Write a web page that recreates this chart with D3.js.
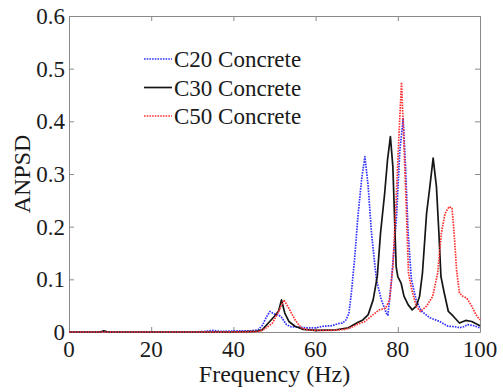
<!DOCTYPE html>
<html>
<head>
<meta charset="utf-8">
<script src="https://cdn.jsdelivr.net/npm/d3@7"></script>
</head>
<body style="margin:0;background:#fff">
<svg id="chart" width="503" height="392" font-family="Liberation Serif"></svg>
<script>
// Frequency (Hz) / ANPSD pairs for each concrete grade
const c20 = [[0,0],[10,0],[20,0],[30,0],[33,0.001],[35,0.003],[37,0.001],[40,0.002],[44,0.002],[46,0.004],[47,0.012],[48,0.028],[48.9,0.039],[50,0.034],[50.9,0.033],[51.7,0.028],[52.9,0.014],[54,0.01],[56,0.009],[58,0.008],[60,0.008],[62,0.011],[64,0.012],[65.5,0.016],[66.5,0.017],[67.3,0.022],[68.1,0.035],[68.7,0.074],[69.5,0.14],[70.3,0.22],[71.2,0.29],[72,0.333],[72.8,0.276],[73.6,0.188],[74.8,0.099],[76,0.061],[77.2,0.036],[77.6,0.032],[78.4,0.093],[79.1,0.16],[79.7,0.22],[80.5,0.345],[81.3,0.405],[81.9,0.31],[82.5,0.19],[83.3,0.1],[84.5,0.06],[85.7,0.04],[87.8,0.027],[90.2,0.02],[92.2,0.011],[94,0.01],[95,0.008],[96,0.01],[97,0.014],[98.5,0.012],[100,0.008]];
const c30 = [[0,0],[7.5,0],[8.5,0.002],[9.5,0],[20,0],[30,0],[40,0],[45,0.001],[46,0.002],[47,0.004],[48.5,0.017],[50,0.03],[51,0.04],[51.7,0.061],[52.5,0.036],[53.5,0.02],[55,0.011],[57,0.005],[60,0.003],[65,0.004],[68,0.008],[70,0.017],[71.5,0.023],[72.8,0.033],[74,0.061],[75,0.105],[75.8,0.188],[76.8,0.263],[77.5,0.327],[78.2,0.371],[78.8,0.314],[79.6,0.124],[80,0.105],[80.8,0.093],[81.5,0.068],[82.5,0.052],[83.5,0.042],[84.5,0.049],[85.3,0.068],[86,0.112],[87,0.225],[87.8,0.276],[88.6,0.33],[89.4,0.276],[90,0.188],[90.5,0.105],[91.3,0.074],[92.3,0.039],[93.5,0.03],[95,0.017],[96.5,0.022],[98,0.02],[100,0.012]];
const c50 = [[0,0],[20,0],[40,0],[46,0.001],[47,0.003],[48,0.008],[49.5,0.017],[51,0.039],[52.3,0.061],[53.5,0.045],[55,0.023],[56.5,0.008],[58,0.004],[60,0.003],[64,0.003],[67,0.005],[68.5,0.008],[70,0.014],[72,0.02],[74,0.033],[75.5,0.042],[77,0.045],[78,0.061],[78.8,0.124],[79.6,0.25],[80.3,0.377],[80.9,0.474],[81.4,0.377],[82,0.25],[82.6,0.112],[83.4,0.08],[84.5,0.049],[85.5,0.039],[87,0.049],[88.5,0.068],[89.7,0.112],[90.6,0.188],[91.5,0.225],[92.5,0.238],[93.2,0.235],[93.7,0.188],[94.3,0.118],[95,0.074],[95.8,0.068],[96.8,0.064],[98,0.049],[99,0.033],[100,0.023]];

const seriesNames = ["C20 Concrete", "C30 Concrete", "C50 Concrete"];
const xTicks = [0, 20, 40, 60, 80, 100];
const yTicks = [0, 0.1, 0.2, 0.3, 0.4, 0.5, 0.6];

const W = 503, H = 392;
const m = { left: 69, right: 23, top: 16, bottom: 60 };
const INK = "#1a1a1a";

const svg = d3.select("#chart");

const x = d3.scaleLinear().domain([0, 100]).range([m.left, W - m.right]);
const y = d3.scaleLinear().domain([0, 0.6]).range([H - m.bottom, m.top]);

const styles = [
  { color: "#3030ff", width: 1.7, dash: "1.6,1.1" },
  { color: "#151515", width: 1.7, dash: null },
  { color: "#ff3030", width: 1.7, dash: "1.6,1.1" }
];
const data = [c20, c30, c50];

const axisColor = "#8a8a8a";
const tickLen = 5;

// Box-style axes with inward ticks on all four sides; tick labels drawn as plain text
function drawAxis(axis, transform) {
  const g = svg.append("g").attr("transform", transform).call(axis);
  g.attr("font-family", null).attr("font-size", null);
  g.select(".domain").attr("stroke", axisColor);
  g.selectAll(".tick line").attr("stroke", axisColor);
  g.selectAll(".tick text").remove();
  return g;
}
drawAxis(d3.axisBottom(x).tickValues(xTicks).tickSizeInner(-tickLen).tickSizeOuter(0), `translate(0,${y(0)})`);
drawAxis(d3.axisTop(x).tickValues(xTicks).tickSizeInner(-tickLen).tickSizeOuter(0), `translate(0,${y(0.6)})`);
drawAxis(d3.axisLeft(y).tickValues(yTicks).tickSizeInner(-tickLen).tickSizeOuter(0), `translate(${x(0)},0)`);
drawAxis(d3.axisRight(y).tickValues(yTicks).tickSizeInner(-tickLen).tickSizeOuter(0), `translate(${x(100)},0)`);

const labels = svg.append("g").attr("fill", INK).attr("font-size", 23);
labels.selectAll(".xl").data(xTicks).join("text")
  .attr("x", d => x(d)).attr("y", y(0) + 25)
  .attr("text-anchor", "middle")
  .text(d3.format("d"));
labels.selectAll(".yl").data(yTicks).join("text")
  .attr("x", x(0) - 4).attr("y", d => y(d)).attr("dy", "0.35em")
  .attr("text-anchor", "end")
  .text(d => d === 0 ? "0" : d3.format(".1f")(d));

// Spectrum curves
const line = d3.line().x(d => x(d[0])).y(d => y(d[1]));
const plot = svg.append("g");
data.forEach((s, i) => {
  plot.append("path").datum(s)
    .attr("d", line)
    .attr("fill", "none")
    .attr("stroke", styles[i].color)
    .attr("stroke-width", styles[i].width)
    .attr("stroke-linejoin", "round")
    .attr("stroke-dasharray", styles[i].dash);
});

// Axis titles
svg.append("text")
  .attr("x", (x(0) + x(100)) / 2).attr("y", 382)
  .attr("text-anchor", "middle").attr("font-size", 24).attr("fill", INK)
  .text("Frequency (Hz)");
svg.append("text")
  .attr("transform", `translate(30,${(y(0) + y(0.6)) / 2}) rotate(-90)`)
  .attr("text-anchor", "middle").attr("font-size", 24).attr("fill", INK)
  .text("ANPSD");

// Legend
const legend = svg.append("g");
seriesNames.forEach((name, i) => {
  const ly = 59 + i * 28.5;
  legend.append("line")
    .attr("x1", 144).attr("x2", 172).attr("y1", ly).attr("y2", ly)
    .attr("stroke", styles[i].color).attr("stroke-width", styles[i].width)
    .attr("stroke-dasharray", styles[i].dash);
  legend.append("text")
    .attr("x", 174).attr("y", ly).attr("dy", "0.35em")
    .attr("font-size", 23).attr("fill", INK)
    .text(name);
});
</script>
</body>
</html>
